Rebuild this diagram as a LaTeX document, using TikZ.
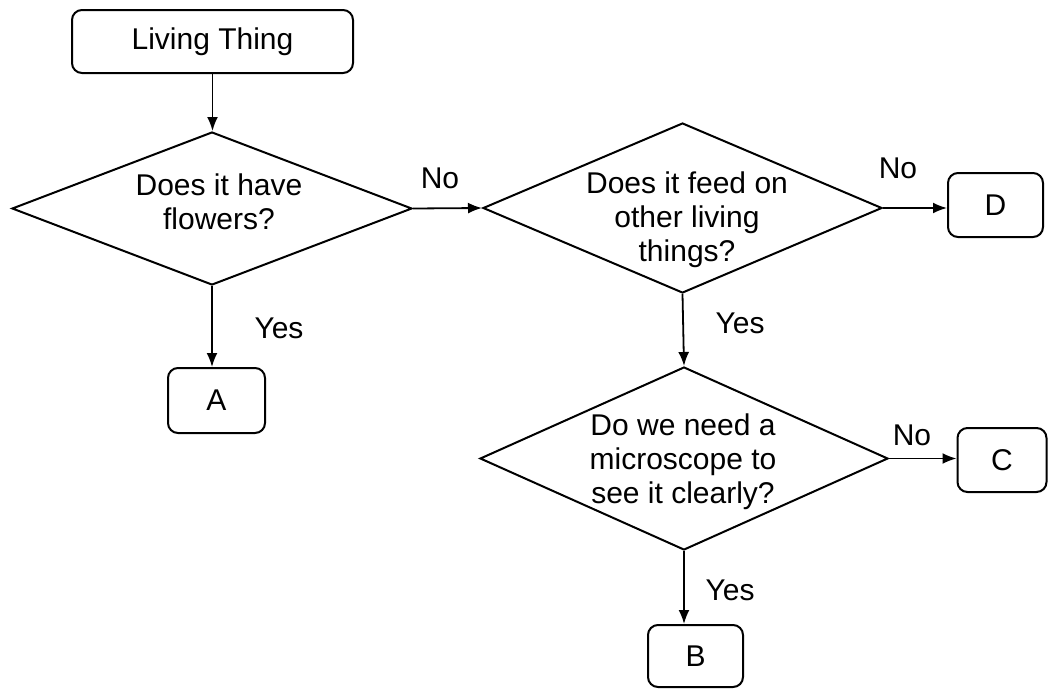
\documentclass[tikz,border=0pt]{standalone}
\usepackage{fontspec}
\setmainfont{Liberation Sans}
\usetikzlibrary{shapes.geometric,arrows.meta}
\begin{document}
\begin{tikzpicture}[x=1pt,y=-1pt,
  every node/.style={font=\fontsize{30}{34}\selectfont},
  box/.style={draw, rounded corners=10pt, line width=2pt, inner sep=0pt},
  dia/.style={draw, diamond, line width=2pt, inner sep=0pt},
  arr/.style={line width=1.8pt, -{Latex[length=14pt,width=11pt]}},
  txt/.style={align=center, inner sep=0pt},
  lbl/.style={inner sep=0pt}]
\useasboundingbox (0,0) rectangle (1051,688);
% boxes
\node[box, minimum width=281pt, minimum height=63pt] (lt) at (212.5,41.5) {Living Thing};
\node[box, minimum width=97pt, minimum height=65pt] (A) at (216.5,400.5) {A};
\node[box, minimum width=95pt, minimum height=64pt] (D) at (995.5,205) {D};
\node[box, minimum width=89pt, minimum height=64pt] (C) at (1002,460) {C};
\node[box, minimum width=95pt, minimum height=62pt] (B) at (695.5,656) {B};
% diamonds
\node[dia, minimum width=400pt, minimum height=153pt] (d1) at (212,208.5) {};
\node[dia, minimum width=399pt, minimum height=170pt] (d2) at (682.5,208) {};
\node[dia, minimum width=408pt, minimum height=183pt] (d3) at (684,458.5) {};
% diamond texts
\node[txt] (t1) at (219,202) {Does it have\\flowers?};
\node[txt] (t2) at (687,220) {Does it feed on\\other living\\things?};
\node[txt] (t3) at (683,462) {Do we need a\\microscope to\\see it clearly?};
% connectors
\draw[arr] (lt.south) -- (lt.south |- d1.north);
\draw[arr] (d1.south) -- (d1.south |- A.north);
\draw[arr] (d1.east) -- (d2.west);
\draw[arr] (d2.east) -- (d2.east -| D.west);
\draw[arr] (d2.south) -- (d3.north);
\draw[arr] (d3.east) -- (d3.east -| C.west);
\draw[arr] (d3.south) -- (d3.south |- B.north);
% labels
\node[lbl] (y1) at (279,328) {Yes};
\node[lbl] (n1) at (440,178) {No};
\node[lbl] (n2) at (898,168) {No};
\node[lbl] (y2) at (740,323) {Yes};
\node[lbl] (n3) at (912,435) {No};
\node[lbl] (y3) at (730,590) {Yes};
\end{tikzpicture}
\end{document}
